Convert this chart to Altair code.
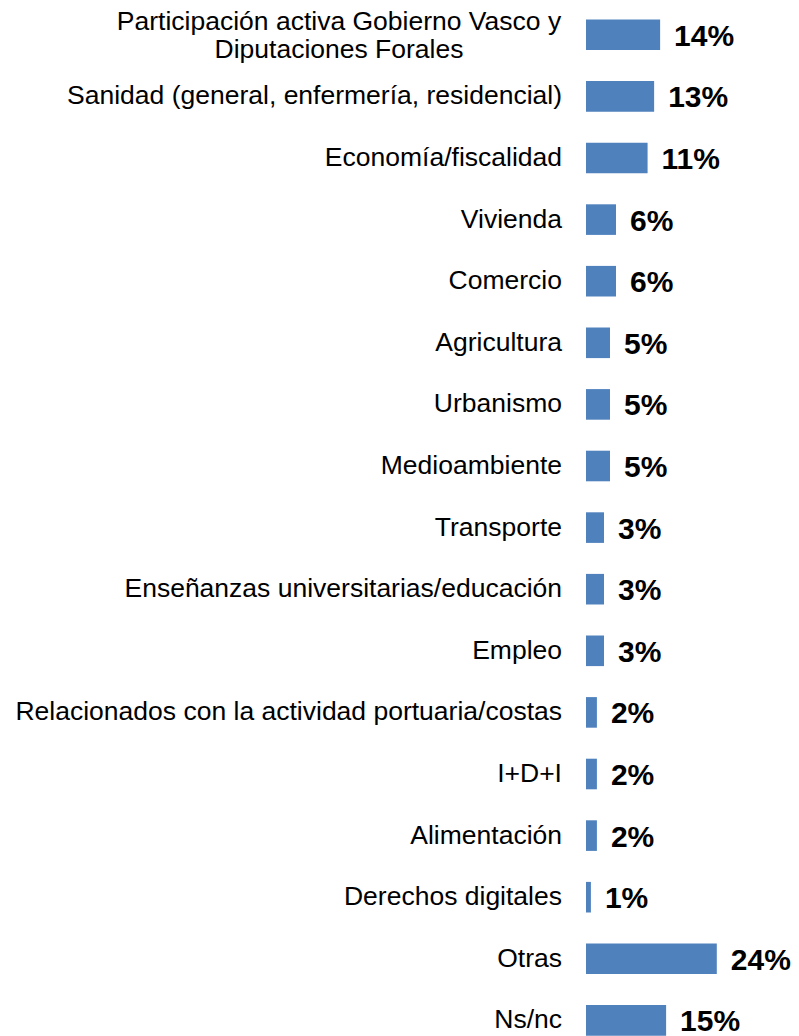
import altair as alt
import pandas as pd

categories = [
    "Participación activa Gobierno Vasco y\nDiputaciones Forales",
    "Sanidad (general, enfermería, residencial)",
    "Economía/fiscalidad",
    "Vivienda",
    "Comercio",
    "Agricultura",
    "Urbanismo",
    "Medioambiente",
    "Transporte",
    "Enseñanzas universitarias/educación",
    "Empleo",
    "Relacionados con la actividad portuaria/costas",
    "I+D+I",
    "Alimentación",
    "Derechos digitales",
    "Otras",
    "Ns/nc",
]
values = [13.6, 12.5, 11.3, 5.5, 5.5, 4.4, 4.4, 4.4, 3.3, 3.3, 3.3, 2.0, 2.0, 2.0, 0.9, 24.0, 14.7]
value_labels = ["14%", "13%", "11%", "6%", "6%", "5%", "5%", "5%", "3%", "3%", "3%",
                "2%", "2%", "2%", "1%", "24%", "15%"]

df = pd.DataFrame({
    "cat": categories,
    "value": values,
    "label": value_labels,
    "row": list(range(len(categories))),
})

PX_PER_PCT = 5.45
W = 205
H = 1030
STEP = 61.6
C0 = 26.8

xscale = alt.Scale(domain=[0, W / PX_PER_PCT], nice=False, zero=True)
yscale = alt.Scale(domain=[-C0 / STEP, (H - C0) / STEP], nice=False, zero=False, reverse=True)

base = alt.Chart(df)

bars = base.mark_bar(orient="horizontal", size=30.6, color="#4F81BD").encode(
    x=alt.X("value:Q", scale=xscale, axis=None),
    x2=alt.datum(0),
    y=alt.Y("row:Q", scale=yscale, axis=None),
)

vals = base.mark_text(
    align="left", baseline="middle", dx=14, dy=2,
    font="Liberation Sans", fontSize=30, fontWeight="bold", color="#000000",
).encode(
    x=alt.X("value:Q", scale=xscale, axis=None),
    y=alt.Y("row:Q", scale=yscale, axis=None),
    text="label:N",
)

cats_single = base.transform_filter(
    "indexof(datum.cat, '\\n') < 0"
).mark_text(
    align="right", baseline="middle",
    font="Liberation Sans", fontSize=26.5, color="#000000",
).encode(
    x=alt.value(-24),
    y=alt.Y("row:Q", scale=yscale, axis=None),
    text="cat:N",
)

cats_multi = base.transform_filter(
    "indexof(datum.cat, '\\n') >= 0"
).mark_text(
    align="center", baseline="middle", lineBreak="\n", lineHeight=28, dy=-13,
    font="Liberation Sans", fontSize=26.5, color="#000000",
).encode(
    x=alt.value(-247),
    y=alt.Y("row:Q", scale=yscale, axis=None),
    text="cat:N",
)

chart = alt.layer(bars, vals, cats_single, cats_multi).properties(
    width=W,
    height=H,
    padding={"left": 578, "top": 0, "right": 0, "bottom": 0},
    autosize=alt.AutoSizeParams(type="none"),
).configure(
    background="white",
    scale=alt.ScaleConfig(continuousPadding=0),
).configure_view(stroke=None)

chart.save("out.html", embed_options={"renderer": "svg", "actions": False})
